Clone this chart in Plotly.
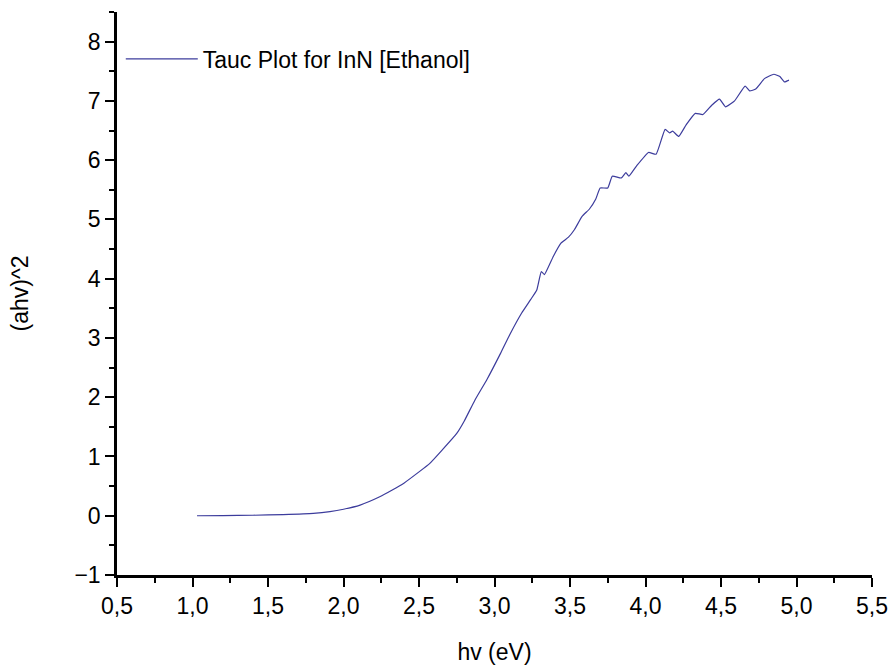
import plotly.graph_objects as go

# Photon energy hv (eV)
hv = [1.03, 1.2, 1.4, 1.6, 1.8, 1.91, 2.0, 2.11, 2.24, 2.32, 2.4, 2.5, 2.57, 2.65,
      2.75, 2.8, 2.87, 2.95, 3.04, 3.1, 3.18, 3.24, 3.28, 3.31, 3.33, 3.39, 3.44,
      3.49, 3.53, 3.58, 3.63, 3.67, 3.70, 3.75, 3.78, 3.84, 3.87, 3.89, 3.94,
      4.02, 4.07, 4.13, 4.16, 4.18, 4.22, 4.27, 4.33, 4.38, 4.44, 4.49, 4.53,
      4.59, 4.66, 4.69, 4.73, 4.79, 4.85, 4.89, 4.92, 4.95]
# (ahv)^2
ahv2 = [0.0, 0.003, 0.008, 0.02, 0.04, 0.07, 0.11, 0.18, 0.32, 0.43, 0.55, 0.74, 0.88, 1.1,
        1.39, 1.6, 1.95, 2.3, 2.74, 3.05, 3.42, 3.65, 3.81, 4.12, 4.07, 4.38, 4.60,
        4.70, 4.83, 5.05, 5.18, 5.34, 5.53, 5.53, 5.73, 5.70, 5.79, 5.73, 5.90,
        6.13, 6.10, 6.52, 6.46, 6.49, 6.40, 6.60, 6.79, 6.77, 6.93, 7.03, 6.90,
        7.00, 7.25, 7.17, 7.20, 7.38, 7.45, 7.41, 7.32, 7.35]

series_name = "Tauc Plot for InN [Ethanol]"
x_title = "hv (eV)"
y_title = "(ahv)^2"

fig = go.Figure()
fig.add_trace(go.Scatter(x=hv, y=ahv2, mode="lines", name=series_name,
                         line=dict(color="#3c3c9c", width=1.2, shape="spline",
                                   smoothing=0.4)))

font_family = "Liberation Sans, Arial, sans-serif"
fig.update_layout(
    width=892, height=669,
    margin=dict(l=117, r=20, t=12, b=94),
    paper_bgcolor="white", plot_bgcolor="white",
    separators=",.",
    font=dict(family=font_family, color="black"),
    showlegend=True,
    legend=dict(x=0.005, y=0.955, xanchor="left", yanchor="top",
                bgcolor="rgba(0,0,0,0)", itemwidth=72,
                font=dict(size=23, family=font_family, color="black")),
)
fig.update_xaxes(
    range=[0.5, 5.5], tick0=0.5, dtick=0.5, tickformat=".1f",
    showline=True, linecolor="black", linewidth=2.5,
    ticks="outside", ticklen=9, tickwidth=2, tickcolor="black",
    minor=dict(dtick=0.25, ticks="outside", ticklen=5, tickwidth=2, tickcolor="black"),
    showgrid=False, zeroline=False, mirror=False, automargin=False,
    tickfont=dict(size=23),
    title=dict(text=x_title, font=dict(size=23), standoff=26),
)
fig.update_yaxes(
    range=[-1, 8.5], tick0=0, dtick=1,
    showline=True, linecolor="black", linewidth=2.5,
    ticks="outside", ticklen=9, tickwidth=2, tickcolor="black",
    minor=dict(dtick=0.5, ticks="outside", ticklen=5, tickwidth=2, tickcolor="black"),
    showgrid=False, zeroline=False, mirror=False, automargin=False,
    tickfont=dict(size=23),
    title=dict(text=y_title, font=dict(size=23), standoff=40),
)

fig.write_html("out.html")
